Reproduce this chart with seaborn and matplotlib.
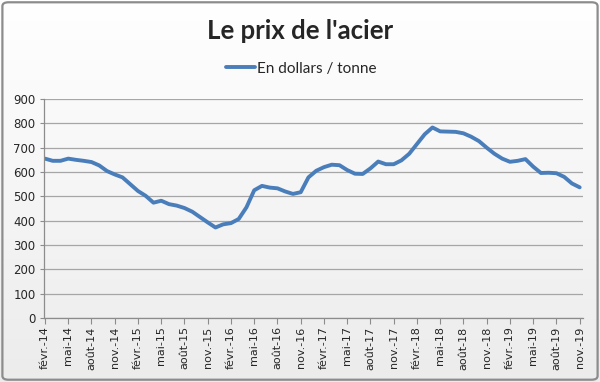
import numpy as np
import pandas as pd
import matplotlib
matplotlib.use("Agg")
import matplotlib.pyplot as plt
from matplotlib.patches import FancyBboxPatch
import seaborn as sns

# monthly steel price, Feb 2014 -> Nov 2019 (USD / tonne)
months_fr = ["janv.", "févr.", "mars", "avr.", "mai", "juin",
             "juil.", "août", "sept.", "oct.", "nov.", "déc."]
start_year = 2014
start_month = 2
prices = [
    655, 646, 646, 655, 650, 646, 641, 627, 604, 590, 578,          # 2014
    550, 522, 502, 474, 482, 468, 462, 452, 437, 415, 393, 372,     # 2015
    385, 390, 407, 455, 525, 543, 536, 533, 520, 510, 517, 578,     # 2016
    605, 620, 630, 628, 608, 593, 592, 615, 643, 632, 632, 648,     # 2017
    675, 715, 755, 783, 767, 766, 765, 759, 745, 727, 700, 675,     # 2018
    655, 642, 646, 653, 622, 596, 597, 595, 580, 553, 537,          # 2019
]
series_name = "En dollars / tonne"
title = "Le prix de l'acier"

labels = []
for k in range(len(prices)):
    m = (start_month - 1 + k) % 12
    y = start_year + (start_month - 1 + k) // 12
    labels.append(f"{months_fr[m]}-{y % 100:02d}")

df = pd.DataFrame({"idx": range(len(prices)), "price": prices, "label": labels})

sns.set_theme(style="white")
plt.rcParams["font.family"] = ["DejaVu Sans"]

fig = plt.figure(figsize=(6, 3.82), dpi=100)

# background gradient for the whole chart
bg = fig.add_axes([0, 0, 1, 1], zorder=-10)
grad = np.linspace(1.0, 0.925, 256).reshape(-1, 1)
bg.imshow(np.dstack([grad, grad, grad]), aspect="auto", extent=[0, 1, 0, 1])
bg.set_axis_off()

ax = fig.add_axes([0.0733, 0.1675, 0.898, 0.5733])
ax.patch.set_alpha(0)

sns.lineplot(data=df, x="idx", y="price", ax=ax, color="#4a7ebb",
             linewidth=2.8, label=series_name, legend=False)

ax.set_ylim(0, 900)
ax.set_yticks(range(0, 901, 100))
ax.set_xlim(-0.13, 69.4)
tick_pos = list(range(0, len(prices), 3))
ax.set_xticks(tick_pos)
ax.set_xticklabels([labels[i] for i in tick_pos], rotation=90, fontsize=8)
ax.tick_params(axis="y", labelsize=8.5, length=3, width=0.8, color="#8c8c8c",
               left=True, pad=3)
ax.tick_params(axis="x", length=4, width=0.8, color="#8c8c8c", bottom=True, pad=2)
ax.set_xlabel("")
ax.set_ylabel("")
ax.grid(axis="y", color="#a6a6a6", linewidth=0.9)
ax.grid(axis="x", visible=False)
for side in ["top", "right"]:
    ax.spines[side].set_visible(False)
for side in ["left", "bottom"]:
    ax.spines[side].set_color("#8c8c8c")
    ax.spines[side].set_linewidth(0.9)

fig.text(0.5, 0.918, title, ha="center", va="center", fontsize=18.5,
         fontweight="bold", family=["Lato", "DejaVu Sans"])
leg = ax.legend(loc="center", frameon=False,
                handlelength=1.9, handletextpad=0.15, prop={"size": 11, "family": "Lato"})
leg.set_bbox_to_anchor((0.502, 0.82), transform=fig.transFigure)

border = FancyBboxPatch((0.004, 0.006), 0.992, 0.988,
                        boxstyle="round,pad=0,rounding_size=0.01",
                        transform=fig.transFigure, fill=False,
                        edgecolor="#8c8c8c", linewidth=1.6)
fig.patches.append(border)

fig.savefig("out.png", dpi=100)
